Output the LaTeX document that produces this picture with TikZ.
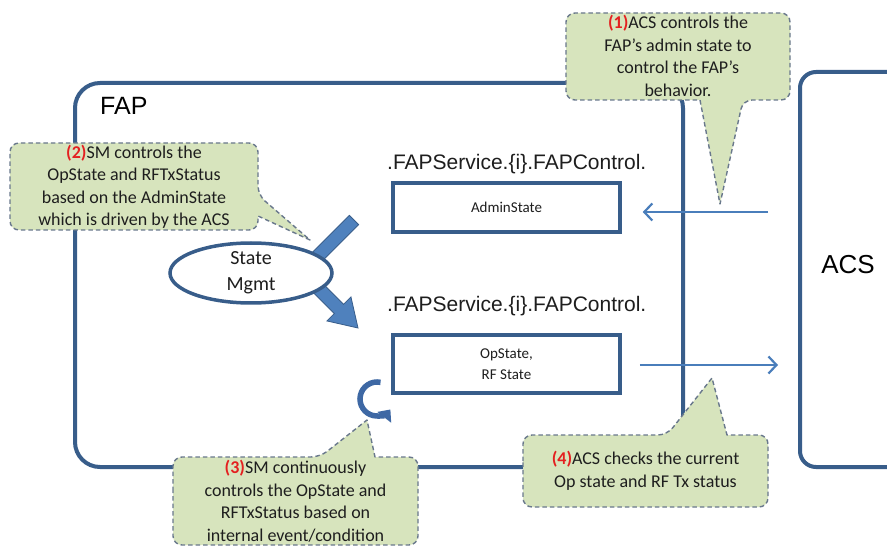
\documentclass[tikz,border=0pt]{standalone}
\usepackage{fontspec}
\setmainfont{Carlito}
\newfontfamily\arialfont{Liberation Sans}
\usetikzlibrary{arrows.meta,shapes.geometric}

\definecolor{boxblue}{RGB}{56,93,138}
\definecolor{linkblue}{RGB}{74,126,187}
\definecolor{blockblue}{RGB}{79,129,189}
\definecolor{loopblue}{RGB}{62,104,164}
\definecolor{notefill}{RGB}{215,228,189}
\definecolor{noteedge}{RGB}{105,120,140}
\definecolor{numred}{RGB}{228,32,32}
\definecolor{inktext}{RGB}{30,30,30}

\tikzset{
  bigbox/.style={draw=boxblue, line width=4pt, rectangle, inner sep=0pt},
  fieldbox/.style={draw=boxblue, line width=3.5pt, fill=white, minimum width=227pt,
    inner sep=0pt, align=center, text=inktext, font=\fontsize{15}{21}\selectfont},
  pathlabel/.style={anchor=base west, inner sep=0pt, text=inktext,
    font=\arialfont\fontsize{21}{25}\selectfont},
  titlelabel/.style={inner sep=0pt, text=black},
  note/.style={fill=notefill, draw=noteedge, line width=1.4pt,
    dash pattern=on 4.5pt off 3pt, rounded corners=9pt, line join=round},
  notetext/.style={align=center, inner sep=0pt, text=inktext,
    font=\fontsize{18}{22.5}\selectfont},
  flow/.style={draw=linkblue, line width=2.2pt,
    -{Straight Barb[length=8pt,width=17pt]}},
  blockarrow/.style={fill=blockblue, draw=boxblue, line width=0.8pt, line join=miter},
  smellipse/.style={ellipse, draw=boxblue, line width=3.5pt, fill=white,
    minimum width=162pt, minimum height=60pt, inner sep=0pt, align=center,
    text=inktext, font=\fontsize{20}{26}\selectfont},
  looparrow/.style={draw=loopblue, line width=5.5pt,
    -{Triangle[length=10pt,width=17pt]}}
}
\newcommand{\stepnum}[1]{\textcolor{numred}{\textbf{(#1)}}}

\begin{document}
\begin{tikzpicture}[x=1pt,y=-1pt]
\useasboundingbox (0,0) rectangle (887,548);
\fill[white] (0,0) rectangle (887,548);
\clip (0,0) rectangle (887,548);

% FAP container and the ACS on the right
\node[bigbox, rounded corners=25pt, minimum width=608pt, minimum height=384pt] (fap) at (379,275) {};
\node[titlelabel, anchor=base west, font=\arialfont\fontsize{25}{30}\selectfont] (faptitle) at (100,115) {FAP};
\node[bigbox, rounded corners=16pt, minimum width=180pt, minimum height=395pt] (acs) at (890,269.5) {};
\node[titlelabel, font=\arialfont\fontsize{26}{30}\selectfont] (acstitle) at (848,265) {ACS};

% data model parameters
\node[pathlabel] (adminpath) at (387,170) {.FAPService.\{i\}.FAPControl.};
\node[fieldbox, minimum height=49pt] (admin) at (506.5,207.5) {AdminState};
\node[pathlabel] (oppath) at (387,312) {.FAPService.\{i\}.FAPControl.};
\node[fieldbox, minimum height=58pt] (op) at (506.5,364) {OpState,\\RF State};

% ACS set / get
\coordinate (acsin) at (768,212);
\coordinate (acsout) at (778,365);
\draw[flow, shorten >=21pt] (acsin) -- (admin.east |- acsin);
\draw[flow, shorten <=18pt] (op.east |- acsout) -- (acsout);

% state management block arrow (bent, apex behind the ellipse)
\draw[blockarrow] (349.40,215.40) -- (292.81,272) -- (334.31,313.51) -- (326.89,320.93)
  -- (358,328) -- (350.93,296.89) -- (343.51,304.31) -- (311.19,272)
  -- (358.60,224.60) -- cycle;
\node[smellipse] (sm) at (251,273) {State\\Mgmt};

% continuous control loop
\coordinate (loopc) at (377,399);
\draw[looparrow] ([shift={(-78:17)}]loopc) arc[start angle=-78, end angle=-322, radius=17];

% callouts
\path[note] (566,56) -- (566,13) -- (790,13) -- (790,100) -- (743,100) [sharp corners]
  -- (720,204) -- (700,100) -- (692,100) [rounded corners=9pt] -- (566,100) -- cycle;
\path[note] (10,190) -- (10,143) -- (258,143) -- (258,195) [sharp corners]
  -- (310,240) -- (258,216) -- (258,220) [rounded corners=9pt] -- (258,230) -- (10,230) -- cycle;
\path[note] (173,500) -- (173,457) -- (320,457) [sharp corners]
  -- (367,420) -- (375,457) -- (385,457) [rounded corners=9pt] -- (418,457) -- (418,545) -- (173,545) -- cycle;
\path[note] (523,470) -- (523,435) -- (667,435) [sharp corners]
  -- (712,378) -- (727,435) -- (737,435) [rounded corners=9pt] -- (768,435) -- (768,507) -- (523,507) -- cycle;

\node[notetext] (note1) at (678,56) {\stepnum{1}ACS controls the\\FAP’s admin state to\\control the FAP’s\\behavior.};
\node[notetext] (note2) at (134,187) {\stepnum{2}SM controls the\\OpState and RFTxStatus\\based on the AdminState\\which is driven by the ACS};
\node[notetext] (note3) at (295.5,501) {\stepnum{3}SM continuously\\controls the OpState and\\RFTxStatus based on\\internal event/condition};
\node[notetext] (note4) at (645.5,471) {\stepnum{4}ACS checks the current\\Op state and RF Tx status};
\end{tikzpicture}
\end{document}
